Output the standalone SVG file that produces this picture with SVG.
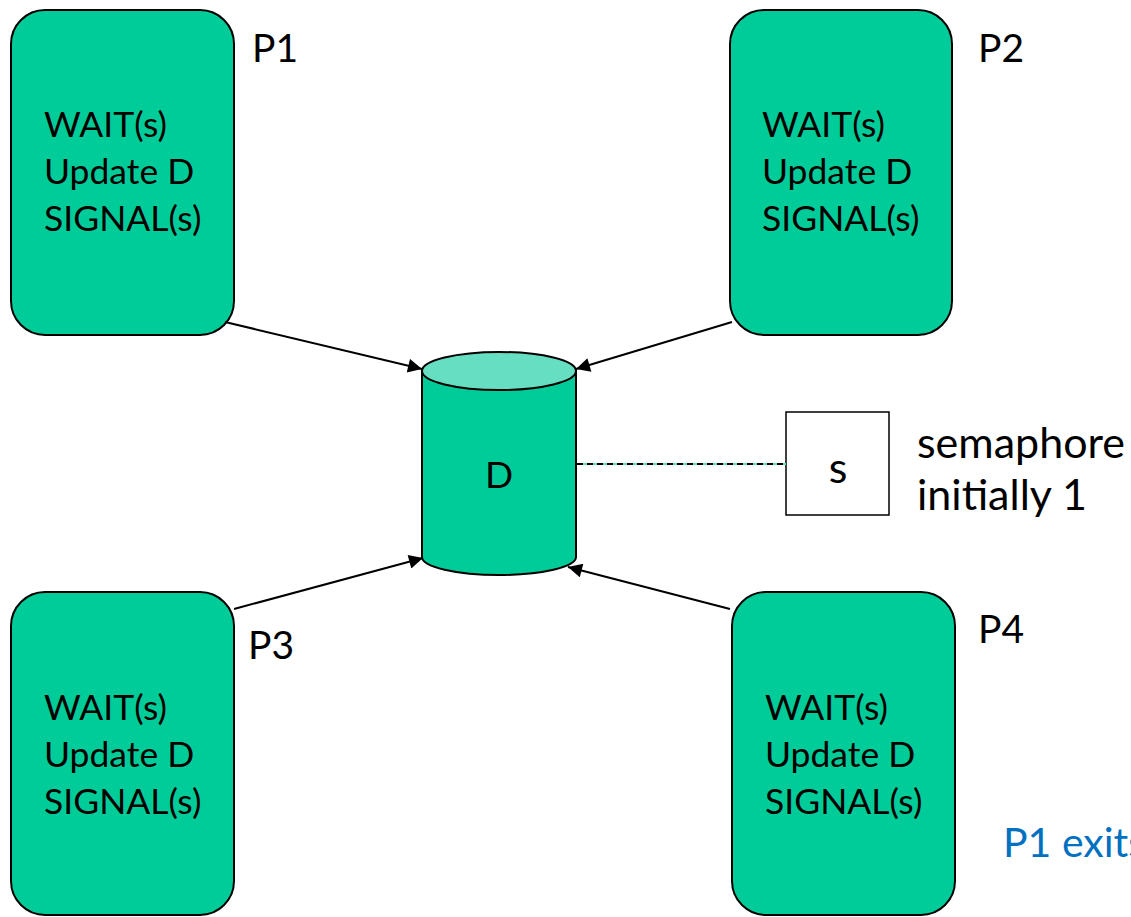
<svg xmlns="http://www.w3.org/2000/svg" width="1131" height="917" viewBox="0 0 1131 917">
<defs>
<style>
.box{fill:#00CC99;stroke:#000;stroke-width:2}
.t{font-family:Lato,"Liberation Sans",sans-serif;font-size:35.5px;fill:#000}
.lbl{font-size:39px}
.big{font-size:43px}
.conn{stroke:#000;stroke-width:2;fill:none;marker-end:url(#ah)}
</style>
<marker id="ah" viewBox="0 0 10 10" refX="10" refY="5" markerWidth="8" markerHeight="7" markerUnits="strokeWidth" orient="auto">
<path d="M0,0 L10,5 L0,10 z" fill="#000"/>
</marker>
</defs>
<rect width="1131" height="917" fill="#fff"/>
<g id="P1">
<rect class="box" x="11" y="10" width="223" height="325" rx="34"/>
<text class="t" x="44" y="137">WAIT(s)</text>
<text class="t" x="44" y="184">Update D</text>
<text class="t" x="44" y="231">SIGNAL(s)</text>
<text class="t lbl" x="252" y="62">P1</text>
</g>
<g id="P2">
<rect class="box" x="730" y="10" width="222" height="325" rx="34"/>
<text class="t" x="762" y="137">WAIT(s)</text>
<text class="t" x="762" y="184">Update D</text>
<text class="t" x="762" y="231">SIGNAL(s)</text>
<text class="t lbl" x="978" y="62">P2</text>
</g>
<g id="P3">
<rect class="box" x="11" y="592" width="223" height="323" rx="34"/>
<text class="t" x="44" y="720">WAIT(s)</text>
<text class="t" x="44" y="767">Update D</text>
<text class="t" x="44" y="814">SIGNAL(s)</text>
<text class="t lbl" x="248" y="659">P3</text>
</g>
<g id="P4">
<rect class="box" x="732" y="592" width="223" height="323" rx="34"/>
<text class="t" x="765" y="720">WAIT(s)</text>
<text class="t" x="765" y="767">Update D</text>
<text class="t" x="765" y="814">SIGNAL(s)</text>
<text class="t lbl" x="978" y="643">P4</text>
</g>
<g id="D">
<path d="M422,370 L422,557 A77,18 0 0 0 576,557 L576,370" fill="#00CC99" stroke="#000" stroke-width="2"/>
<ellipse cx="499" cy="371" rx="77" ry="19" fill="#66DEC2" stroke="#000" stroke-width="2"/>
<text class="t" x="499" y="488" text-anchor="middle" style="font-size:37px">D</text>
</g>
<g id="s">
<rect x="786" y="412" width="103" height="103" fill="#fff" stroke="#000" stroke-width="1.5"/>
<text class="t big" x="838" y="483" text-anchor="middle">s</text>
<text class="t big" x="917" y="458">semaphore</text>
<text class="t big" x="917" y="510">initially 1</text>
</g>
<g id="note">
<text class="t" x="1003" y="857" style="fill:#0070C0;font-size:41px">P1 exits</text>
</g>
<g id="connectors">
<line x1="225" y1="322" x2="422" y2="369" class="conn"/>
<line x1="732" y1="322" x2="576" y2="369" class="conn"/>
<line x1="234" y1="609" x2="423" y2="558" class="conn"/>
<line x1="730" y1="609" x2="568" y2="567" class="conn"/>
<line x1="577" y1="464" x2="786" y2="464" stroke="#66DEC2" stroke-width="2"/>
<line x1="577" y1="464" x2="786" y2="464" stroke="#000" stroke-width="2" stroke-dasharray="6 4"/>
</g>
</svg>
